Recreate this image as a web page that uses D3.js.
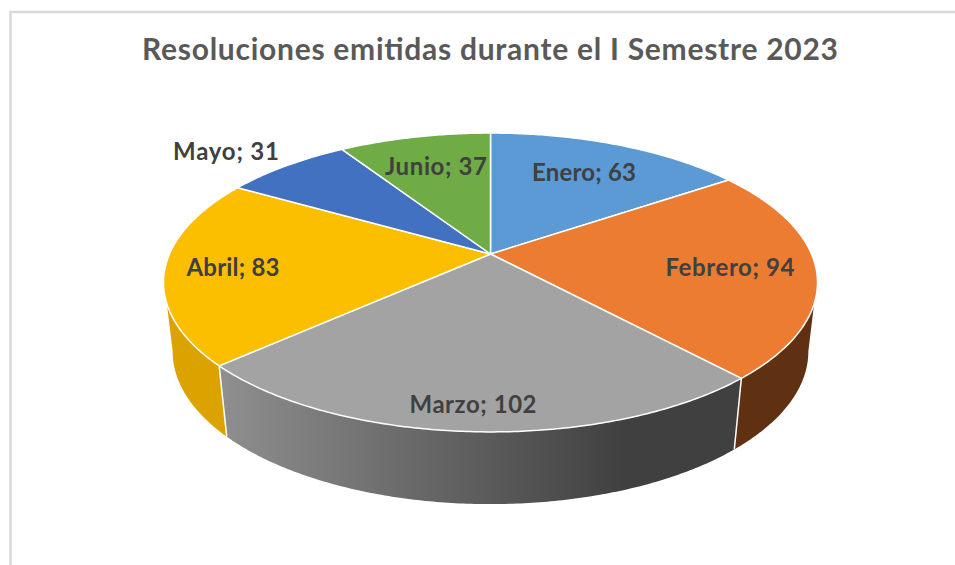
<!DOCTYPE html>
<html><head><meta charset="utf-8">
<style>html,body{margin:0;padding:0;background:#fff}svg{display:block}</style>
<script src="https://cdn.jsdelivr.net/npm/d3@7/dist/d3.min.js"></script>
</head><body><svg id="c" width="955" height="565"></svg>
<script>
const titleText = "Resoluciones emitidas durante el I Semestre 2023";
const months = ["Enero","Febrero","Marzo","Abril","Mayo","Junio"];
const counts = [63,94,102,83,31,37];
const topColors = ["#5b9ad5","#eb7c31","#a3a3a3","#fcbf00","#4371c2","#6fac46"];

// layout: projection of the tilted disc, label centres and widths
const rimTop = {cx:490.5, cy:254, a:321, b:144, k:0.1906};
const rimBottom = {cx:490.5, cy:322.5, a:312, b:147, k:0.1906};
const labelLayout = [[584,173,104],[730,268,129],[473,405,127],[233,268,93],[226,152,106],[436,167,102]];

const svg = d3.select("#c");
const defs = svg.append("defs");
const FONT = "Lato, 'Open Sans', sans-serif";

function project(p, angle, r=1){
  const u = r*Math.sin(angle), v = r*Math.cos(angle), w = 1 + p.k*v;
  return [p.cx + p.a*u/w, p.cy - p.b*v/w];
}
function arcPts(p, a0, a1){
  const n = Math.max(2, Math.ceil(Math.abs(a1-a0)/0.01));
  return d3.range(n+1).map(i => project(p, a0 + (a1-a0)*i/n));
}
const line = d3.line();
const slices = d3.pie().sort(null).value(d=>d)(counts);

// frame
const frame = svg.append("g").attr("stroke","#d9d9d9").attr("stroke-width",2.5).attr("fill","none");
frame.append("path").attr("d","M10.5,565V12H955");

// side wall
const rad = d => d*Math.PI/180;
const topR = rad(109), botR = rad(101), topL = rad(251), botL = rad(259);
const sideSpec = [
  {i:1, g:[["0%","#5f3112"],["100%","#5f3112"]]},
  {i:2, g:[["0%","#404040"],["22%","#404040"],["100%","#8f8f8f"]]},
  {i:3, g:[["0%","#dca300"],["100%","#dba200"]]}
];
sideSpec.forEach(s=>{
  const d = slices[s.i];
  const a0t = Math.max(d.startAngle, topR), a1t = Math.min(d.endAngle, topL);
  const a0b = Math.max(d.startAngle, botR), a1b = Math.min(d.endAngle, botL);
  const pts = arcPts(rimTop,a0t,a1t).concat(arcPts(rimBottom,a1b,a0b));
  const ex = d3.extent(pts, q=>q[0]);
  const id = "side"+s.i;
  const lg = defs.append("linearGradient").attr("id",id).attr("gradientUnits","userSpaceOnUse")
    .attr("x1",ex[1]).attr("x2",ex[0]).attr("y1",0).attr("y2",0);
  s.g.forEach(g=>lg.append("stop").attr("offset",g[0]).attr("stop-color",g[1]));
  svg.append("path").attr("d",line(pts)+"Z").attr("fill",`url(#${id})`);
});
// vertical white seams on the wall
[slices[1].endAngle, slices[2].endAngle].forEach(a=>{
  svg.append("path").attr("d",line([project(rimTop,a),project(rimBottom,a)]))
    .attr("stroke","#fff").attr("stroke-width",1.5).attr("fill","none");
});
// top faces
svg.append("g").selectAll("path").data(slices).join("path")
  .attr("d",d=>line([[rimTop.cx,rimTop.cy]].concat(arcPts(rimTop,d.startAngle,d.endAngle)))+"Z")
  .attr("fill",(d,i)=>topColors[i])
  .attr("stroke","#fff").attr("stroke-width",1.5).attr("stroke-linejoin","round");

// title
svg.append("text").attr("x",490).attr("y",60).attr("text-anchor","middle")
  .attr("font-family",FONT).attr("font-weight",700).attr("font-size",30)
  .attr("fill","#595959").attr("textLength",696).attr("lengthAdjust","spacing").text(titleText);

// labels
svg.append("g").selectAll("text").data(slices).join("text")
  .attr("x",(d,i)=>labelLayout[i][0]).attr("y",(d,i)=>labelLayout[i][1]+8)
  .attr("text-anchor","middle").attr("font-family",FONT).attr("font-weight",700).attr("font-size",24)
  .attr("fill","#404040").attr("textLength",(d,i)=>labelLayout[i][2]).attr("lengthAdjust","spacing")
  .text((d,i)=>`${months[i]}; ${d.value}`);
</script></body></html>
